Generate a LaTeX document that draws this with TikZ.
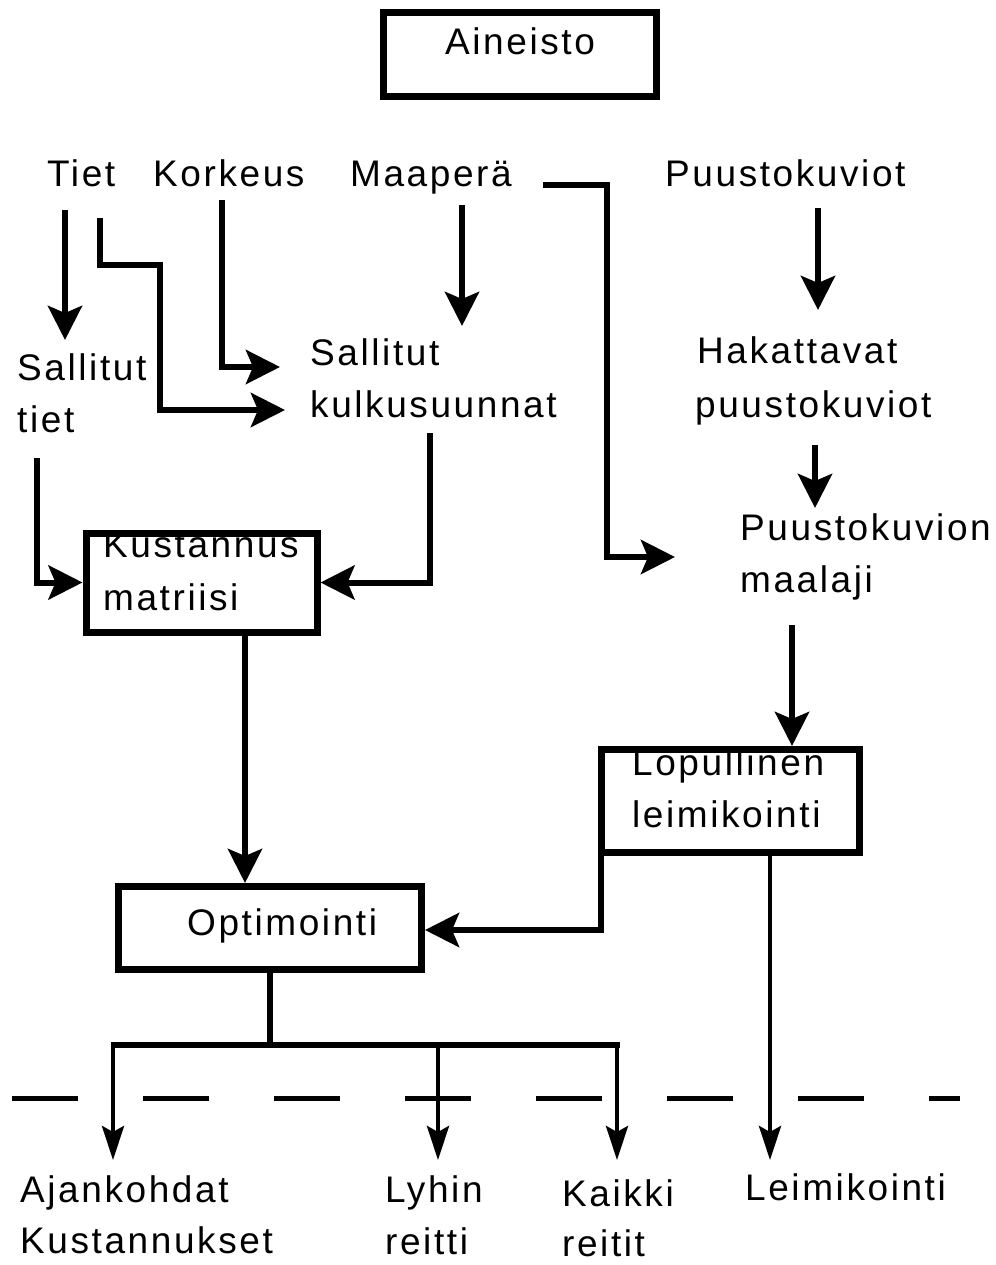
\documentclass[tikz,border=0pt]{standalone}
\usepackage{fontspec}
\setmainfont{Liberation Sans}[LetterSpace=7]
\usetikzlibrary{arrows.meta}
\begin{document}
\begin{tikzpicture}[x=1pt,y=-1pt,
  lbl/.style={anchor=base west,inner sep=0pt,font=\fontsize{37}{44}\selectfont},
  boxnode/.style={draw,line width=7pt,inner sep=0pt,minimum width=#1},
  arr/.style={line width=6pt,-{Stealth[length=34pt,width=34pt,inset=7pt]}},
  sarr/.style={line width=4.5pt,-{Stealth[length=34pt,width=22pt,inset=6pt]}},
  plainline/.style={line width=6pt},
  dashline/.style={line width=5pt,dash pattern=on 66pt off 65pt}]
\useasboundingbox (0,0) rectangle (995,1265);
% dashed separator
\draw[dashline] (12,1098) -- (960,1098);
% texts
\node[lbl] (ain) at (445,55) {Aineisto};
\node[lbl] (tiet) at (47,187) {Tiet};
\node[lbl] (kork) at (153,187) {Korkeus};
\node[lbl] (maap) at (350,187) {Maaperä};
\node[lbl] (puu) at (665,187) {Puustokuviot};
\node[lbl] (st1) at (17,380) {Sallitut};
\node[lbl] (st2) at (17,432) {tiet};
\node[lbl] (sk1) at (310,365) {Sallitut};
\node[lbl] (sk2) at (310,417) {kulkusuunnat};
\node[lbl] (hk1) at (697,363) {Hakattavat};
\node[lbl] (hk2) at (695,417) {puustokuviot};
\node[lbl] (pm1) at (740,540) {Puustokuvion};
\node[lbl] (pm2) at (740,592) {maalaji};
\node[lbl] (km1) at (103,557) {Kustannus};
\node[lbl] (km2) at (103,610) {matriisi};
\node[lbl] (ll1) at (632,775) {Lopullinen};
\node[lbl] (ll2) at (632,827) {leimikointi};
\node[lbl] (opt) at (187,935) {Optimointi};
\node[lbl] (aj1) at (20,1202) {Ajankohdat};
\node[lbl] (aj2) at (20,1253) {Kustannukset};
\node[lbl] (ly1) at (385,1202) {Lyhin};
\node[lbl] (ly2) at (385,1254) {reitti};
\node[lbl] (ka1) at (562,1206) {Kaikki};
\node[lbl] (ka2) at (562,1256) {reitit};
\node[lbl] (lei) at (745,1200) {Leimikointi};
% boxes
\node[boxnode=273pt,minimum height=84pt] (bain) at (520,54.5) {};
\node[boxnode=231pt,minimum height=99pt] (bkm) at (201.5,582.5) {};
\node[boxnode=258pt,minimum height=103pt] (bll) at (730.5,801) {};
\node[boxnode=303pt,minimum height=83pt] (bopt) at (270,928) {};
% coordinates
\coordinate (c1) at (65,210);
\coordinate (c2) at (100,218);
\coordinate (c3) at (222,200);
\coordinate (c4) at (462,205);
\coordinate (c5) at (543,185);
\coordinate (c6) at (818,208);
\coordinate (c7) at (815,445);
\coordinate (c8) at (792,625);
\coordinate (c9) at (37,458);
\coordinate (c10) at (430,433);
\coordinate (t1) at (65,340);
\coordinate (t2) at (285,410);
\coordinate (t3) at (280,367);
\coordinate (t4) at (462,326);
\coordinate (t5) at (675,557);
\coordinate (t6) at (818,310);
\coordinate (t7) at (815,508);
\coordinate (hj) at (270,1045);
\coordinate (d1) at (113,1160);
\coordinate (d2) at (438,1160);
\coordinate (d3) at (617,1160);
\coordinate (d4) at (770,1160);
% connectors
\draw[arr] (c1) -- (t1);
\draw[arr] (c2) |- (160,265) |- (t2);
\draw[arr] (c3) |- (t3);
\draw[arr] (c4) -- (t4);
\draw[arr] (c5) -| (607,400) |- (t5);
\draw[arr] (c6) -- (t6);
\draw[arr] (c7) -- (t7);
\draw[arr] (c8) -- (c8 |- bll.north);
\draw[arr] (c9) |- (bkm.west);
\draw[arr] (c10) |- (bkm.east);
\draw[arr] (bkm.south -| 245,0) -- (bopt.north -| 245,0);
\draw[arr] (bll.south west) ++(3,0) |- (bopt.east |- 0,930);
\draw[plainline] (bopt.south) -- (hj);
\draw[plainline] (113,1045) -- (620,1045);
\draw[sarr] (113,1042) -- (d1);
\draw[sarr] (438,1045) -- (d2);
\draw[sarr] (617,1042) -- (d3);
\draw[sarr] (bll.south -| 770,0) -- (d4);
\end{tikzpicture}
\end{document}
